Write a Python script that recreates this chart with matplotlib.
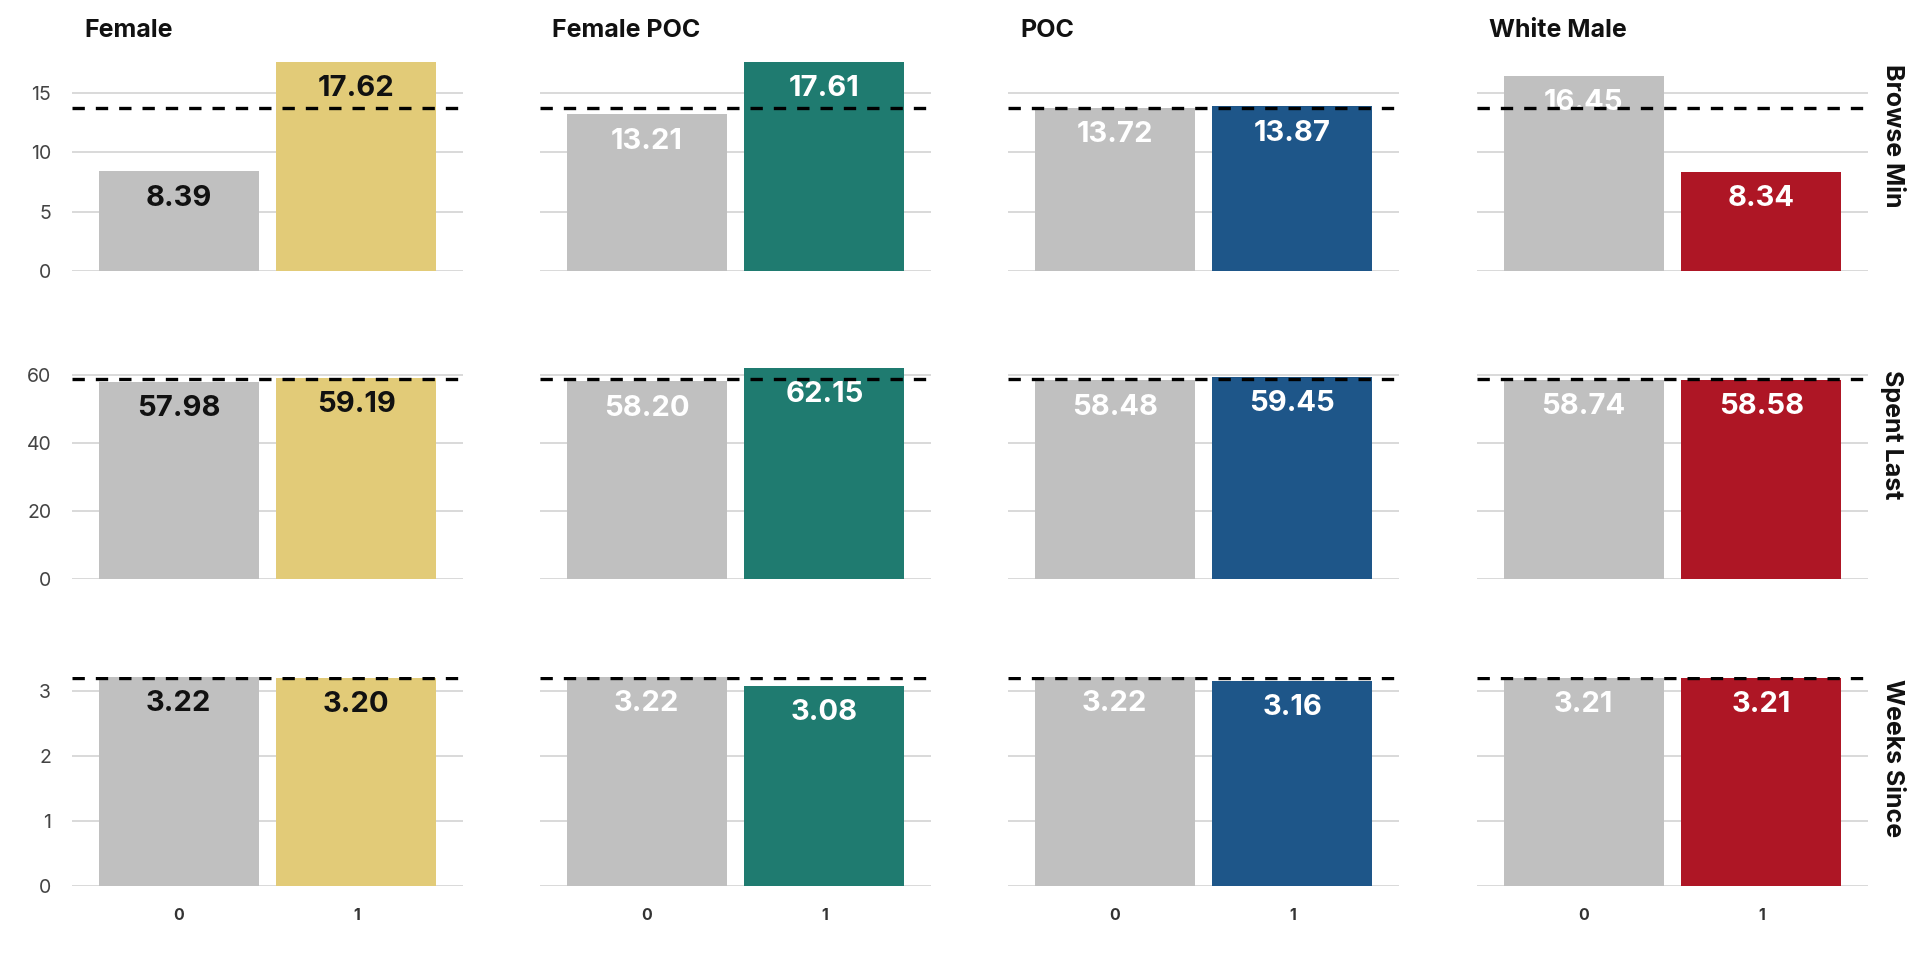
import matplotlib.pyplot as plt

plt.rcParams['font.family'] = ['Inter', 'DejaVu Sans']

groups = ['Female', 'Female POC', 'POC', 'White Male']
metrics = ['Browse Min', 'Spent Last', 'Weeks Since']
x_labels = ['0', '1']

browse_min = [[8.39, 17.62], [13.21, 17.61], [13.72, 13.87], [16.45, 8.34]]
spent_last = [[57.98, 59.19], [58.20, 62.15], [58.48, 59.45], [58.74, 58.58]]
weeks_since = [[3.22, 3.20], [3.22, 3.08], [3.22, 3.16], [3.21, 3.21]]
values = [browse_min, spent_last, weeks_since]

# overall mean per metric (dashed reference line)
means = [13.78, 58.85, 3.21]
yticks = [[0, 5, 10, 15], [0, 20, 40, 60], [0, 1, 2, 3]]

base_color = '#c0c0c0'
group_colors = ['#e2cb78', '#1f7b70', '#1e5689', '#ae1625']
label_colors = ['#111111', 'white', 'white', 'white']

W, H = 1920, 960
fig = plt.figure(figsize=(W / 100, H / 100), dpi=100)

col_left = [72, 540, 1008, 1477]
col_w = 391
row_top = [62, 368, 677]
row_bot = [271, 579, 886]

for r, metric in enumerate(metrics):
    ymax = max(max(v) for v in values[r])
    for c, group in enumerate(groups):
        ax = fig.add_axes([col_left[c] / W, 1 - row_bot[r] / H,
                           col_w / W, (row_bot[r] - row_top[r]) / H])
        vals = values[r][c]
        bars = ax.bar([0, 1], vals, width=0.9,
                      color=[base_color, group_colors[c]], zorder=2)
        for b, v in zip(bars, vals):
            ax.annotate(f'{v:.2f}', (b.get_x() + b.get_width() / 2, v),
                        xytext=(0, -9.5), textcoords='offset points',
                        ha='center', va='top', fontsize=21, fontweight='bold',
                        color=label_colors[c], zorder=3)
        ax.axhline(means[r], color='black', lw=2.4, dashes=(3.7, 3.3), zorder=4)

        ax.set_xlim(-0.6, 1.6)
        ax.set_ylim(0, ymax)
        ax.set_yticks(yticks[r])
        ax.yaxis.grid(True, color='#d0d0d0', lw=1.1, zorder=0)
        ax.set_axisbelow(True)
        for s in ax.spines.values():
            s.set_visible(False)
        ax.tick_params(length=0)
        ax.tick_params(axis='y', labelsize=14, labelcolor='#444444', pad=15)
        if c > 0:
            ax.set_yticklabels([])
        if r == 2:
            ax.set_xticks([0, 1])
            ax.set_xticklabels(x_labels, fontsize=11.5, fontweight='bold', color='#333333')
            ax.tick_params(axis='x', pad=16)
        else:
            ax.set_xticks([])

        if r == 0:
            fig.text((col_left[c] + 12) / W, 1 - 37 / H, group, fontsize=18,
                     fontweight='bold', color='#111111', va='baseline', ha='left')
        if c == 3:
            fig.text(1892 / W, 1 - (row_top[r] + 2) / H, metric,
                     rotation=270, fontsize=18, fontweight='bold', color='#111111',
                     ha='center', va='top')

fig.savefig('out.png', dpi=100, facecolor='white')
